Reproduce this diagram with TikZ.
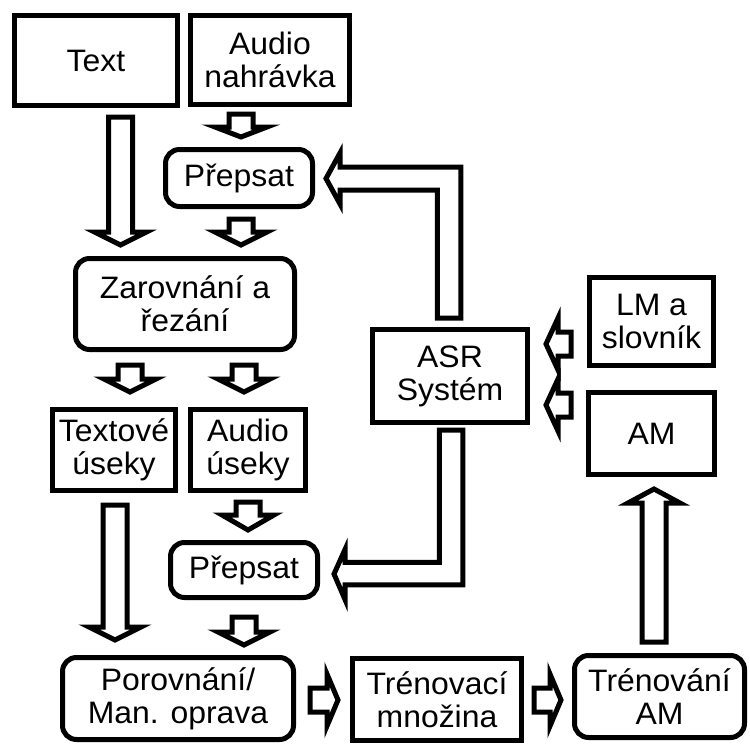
\documentclass[tikz,border=0pt]{standalone}
\usepackage{fontspec}
\setmainfont{Liberation Sans}[FakeStretch=1.03]
\tikzset{
  box/.style={draw, line width=5pt, inner sep=0pt, outer sep=0pt, align=center,
    font=\fontsize{31}{33}\selectfont},
  rbox/.style={box, rounded corners=14pt},
  barrow/.style={draw, line width=5pt, line join=miter, fill=white}
}
% x, top, base, tip
\newcommand\arrD[4]{\draw[barrow] ({#1-12},#2) -- ({#1-12},#3) -- ({#1-26},#3) -- (#1,#4) -- ({#1+26},#3) -- ({#1+12},#3) -- ({#1+12},#2) -- cycle;}
\newcommand\arrU[4]{\draw[barrow] ({#1-12},#2) -- ({#1-12},#3) -- ({#1-26},#3) -- (#1,#4) -- ({#1+26},#3) -- ({#1+12},#3) -- ({#1+12},#2) -- cycle;}
% y, start, base, tip
\newcommand\arrH[4]{\draw[barrow] (#2,{#1-12}) -- (#3,{#1-12}) -- (#3,{#1-26}) -- (#4,#1) -- (#3,{#1+26}) -- (#3,{#1+12}) -- (#2,{#1+12}) -- cycle;}
\begin{document}
\begin{tikzpicture}[x=1pt,y=-1pt]
\useasboundingbox[fill=white] (0,0) rectangle (750,744);
\node[box, minimum width=163pt, minimum height=90pt] (text) at (96,60.5) {Text};
\node[box, minimum width=159pt, minimum height=89pt] (audio) at (270,60) {Audio\\nahrávka};
\node[rbox, minimum width=147pt, minimum height=57pt] (prep1) at (239,178) {Přepsat};
\node[rbox, minimum width=219pt, minimum height=91pt] (zar) at (185,304) {Zarovnání a\\řezání};
\node[box, minimum width=123pt, minimum height=81pt] (txtu) at (114,450) {Textové\\úseky};
\node[box, minimum width=115pt, minimum height=81pt] (audu) at (248,450) {Audio\\úseky};
\node[rbox, minimum width=147pt, minimum height=55pt] (prep2) at (244,570) {Přepsat};
\node[rbox, minimum width=231pt, minimum height=82pt] (por) at (178,698.5) {Porovnání/\\Man. oprava};
\node[box, minimum width=169pt, minimum height=82pt] (tren) at (437,699.5) {Trénovací\\množina};
\node[rbox, minimum width=170pt, minimum height=82pt] (trenam) at (659.5,696.5) {Trénování\\AM};
\node[box, minimum width=155pt, minimum height=93pt] (asr) at (450,376) {ASR\\Systém};
\node[box, minimum width=124pt, minimum height=88pt] (lm) at (651.5,321.5) {LM a\\slovník};
\node[box, minimum width=126pt, minimum height=82pt] (am) at (651.5,433.5) {AM};
% straight block arrows
\arrD{241}{114}{127}{137}
\arrD{241}{219}{232}{245}
\arrD{120.5}{117}{232}{245}
\arrD{130}{365}{379}{392}
\arrD{244}{365}{379}{392}
\arrD{248}{502}{515}{530}
\arrD{115}{505}{627}{640}
\arrD{244}{617}{632}{645}
\arrH{700}{310}{327}{338}
\arrH{700}{534}{550}{561}
\arrU{654}{642}{503}{489}
\arrH{344}{571}{558}{546}
\arrH{405}{571}{558}{546}
% elbow arrows from ASR
\draw[barrow] (437.25,318) -- (437.25,190) -- (340,190) -- (340,204) -- (326,178.5) -- (340,153) -- (340,167) -- (460.75,167) -- (460.75,318) -- cycle;
\draw[barrow] (439.25,430) -- (439.25,562.25) -- (345,562.25) -- (345,549.5) -- (334,574) -- (345,599.5) -- (345,584.75) -- (462.75,584.75) -- (462.75,430) -- cycle;
\end{tikzpicture}
\end{document}
